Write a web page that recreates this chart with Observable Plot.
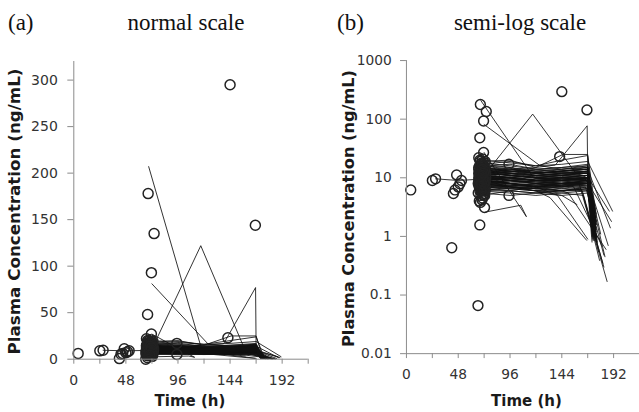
<!DOCTYPE html>
<html><head><meta charset="utf-8">
<script src="https://cdn.jsdelivr.net/npm/d3@7"></script>
<script src="https://cdn.jsdelivr.net/npm/@observablehq/plot@0.6"></script>
<style>
html,body{margin:0;padding:0;background:#fff;overflow:hidden;}
#wrap{position:relative;width:639px;height:412px;overflow:hidden;background:#fff;}
#left{position:absolute;left:0;top:0;}
#right{position:absolute;left:320px;top:0;}
#overlay{position:absolute;left:0;top:0;pointer-events:none;}
.ttl{font-family:"Liberation Serif","Times New Roman",serif;font-size:23px;fill:#111;}
.lab{font-family:"DejaVu Sans",sans-serif;font-size:15px;font-weight:bold;fill:#1a1a1a;}
</style></head><body>
<div id="wrap">
<div id="left"></div><div id="right"></div>
<svg id="overlay" width="639" height="412">
  <text class="ttl" x="8" y="30">(a)</text>
  <text class="ttl" x="186" y="30" text-anchor="middle">normal scale</text>
  <text class="ttl" x="337" y="30">(b)</text>
  <text class="ttl" x="520" y="30" text-anchor="middle">semi-log scale</text>
  <text class="lab" transform="translate(19.5,211.5) rotate(-90)" text-anchor="middle" textLength="286" lengthAdjust="spacingAndGlyphs">Plasma Concentration (ng/mL)</text>
  <text class="lab" transform="translate(354,208.5) rotate(-90)" text-anchor="middle" textLength="277" lengthAdjust="spacingAndGlyphs">Plasma Concentration (ng/mL)</text>
  <text class="lab" x="190" y="406" text-anchor="middle">Time (h)</text>
  <text class="lab" x="526.5" y="406" text-anchor="middle">Time (h)</text>
</svg>
</div>
<script>
// ---- axis ticks ----
const xDomain = [0, 216];
const xMajorTicks = [0, 48, 96, 144, 192];
const xMinorTicks = [24, 72, 120, 168, 216];
const linDomain = [0, 320];
const linTicks = [0, 50, 100, 150, 200, 250, 300];
const logDomain = [0.01, 1000];
const logTicks = [0.01, 0.1, 1, 10, 100, 1000];

// ---- observed concentrations (circles) ----
const sparseObsTime = [4, 24, 27, 42, 43.5, 45, 46.5, 48, 49.5, 51, 66.3, 68, 72.4, 68.5, 74, 71.5, 68, 71.5, 95, 95, 142, 144, 167.3];
const sparseObsConc = [6.2, 9.0, 9.6, 0.64, 5.4, 6.2, 11.2, 7.0, 7.9, 9.0, 0.066, 1.57, 3.1, 178, 135, 93, 48, 27, 17, 5, 23, 295, 144];
const clusterObsTime = [66.5, 67, 67.5, 68, 68.5, 69, 69.5, 70, 70.5, 71, 71.5, 72, 72.5, 73, 73.5,
  66.5, 67, 67.5, 68, 68.5, 69, 69.5, 70, 70.5, 71, 71.5, 72, 72.5, 73, 73.5,
  67, 68, 69, 70, 71, 72, 73, 67.5, 68.5, 69.5, 70.5, 71.5, 72.5,
  68, 69, 70, 71, 72, 69.5, 70.5, 68.5, 71.5, 67, 73, 70, 69, 71, 72, 68, 70,
  67, 67.5, 68, 68.5, 69, 69.5, 70, 70.5, 71, 71.5, 72, 72.5, 73,
  67, 67.5, 68, 68.5, 69, 69.5, 70, 70.5, 71, 71.5, 72, 72.5, 73,
  68, 69, 70, 71, 72, 68.5, 69.5, 70.5, 71.5, 70];
const clusterObsConc = [8, 10, 12, 6, 14, 9, 16, 7, 11, 13, 5, 18, 9.5, 8.5, 12,
  5.5, 15, 7, 20, 9, 11, 6.5, 13, 4.5, 17, 10, 7.5, 14, 6, 10,
  12, 11, 13, 9, 8, 15, 11, 4, 19, 7.5, 21, 12.5, 5,
  16, 5, 10.5, 6, 11.5, 14.5, 8, 3.8, 9, 22, 7, 18, 12, 15.5, 8.5, 10, 6.8,
  9, 7, 13, 8, 10, 12, 6, 9.5, 7, 11, 14, 6.5, 9,
  14, 11, 8.5, 17, 6, 9, 16, 12, 5.2, 10, 8, 13, 19,
  7.5, 13.5, 11, 9.5, 6, 10.5, 8, 14, 12, 4.2];

// ---- individual profiles (lines) ----
const subjTimes = [
  [70,96,120,144,168,174],[68,96,120,144,168,173],[72,96,120,144,168,176],[69,96,120,144,168,175],
  [71,96,120,144,168,174],[70,96,120,144,168,172],[67,96,120,144,168,176],[73,96,120,144,168,175],
  [70,96,120,144,168,174],[68,96,120,144,168,173],[72,96,120,144,168,176],[69,96,120,144,168,175],
  [71,96,120,144,168,174],[70,96,120,144,160,186],[68,96,120,144,162,183],[72,96,120,144,164,179],
  [69,96,120,144,166,183],[71,96,120,144,168,189],[70,96,120,144,168,191],[67,96,120,133,167],
  [73,96,120,140,168],[70,96,120,144,168,175],[68,96,120,145,168,174],[72,96,120,144,158],
  [70,96,120,144,170,188],[69,96,120,144,168,176],[71,96,120,144,168,174],[70,96,120,144,168,173],
  [68,96,120,144,168,175],[72,96,120,144,168,176],[70,96,120,144,168,174],[69,96,120,144,168,172],
  [71,96,120,144,168,175],[68,96,120,144,168,174],[73,96,120,144,168,176],[70,96,120,144,168,173],
  [67,96,120,144,168,175],[72,96,120,144,168,174],[69,96,120,144,168,176],[71,96,120,144,168,172],
  [70,96,120,144,168,175],[68,96,120,144,168,174],[72,96,120,144,168,173],[69,96,120,144,168,176],
  [71,96,120,144,168,175],[70,96,120,144,150,185],[68,96,120,144,155,181],[72,96,120,144,168,178],
  [70,96,120,144,168,180],[69,96,120,144,165,190],
  [69,118,144,168,174],[72,124,144,168,175],[72,117,157,168,175],[70,96,120,138,167.5,168,175],
  [72,111],[73,106,111],[27,48,70,96,120,144,168,175],
  [70,96,120,144,168,174],[69,96,120,144,168,175],[71,96,120,144,168,173],[68,96,120,144,168,176],
  [72,96,120,144,168,174],[70,96,120,144,168,175],[69,96,120,144,168,173],[71,96,120,144,168,176],
  [68,96,120,144,168,174],[70,96,120,144,168,175],[72,96,120,144,168,172],[69,96,120,144,168,174],
  [71,96,120,144,168,175],[70,96,120,144,168,176],[68,96,120,144,168,173],[72,96,120,144,168,175],
  [70,96,120,144,168,174],[69,96,120,144,168,176],[71,96,120,144,168,173],[70,96,120,144,168,175],
  [68,96,120,144,168,174],[72,96,120,144,168,176],[69,96,120,144,168,175],[71,96,120,144,168,174],
  [70,96,120,144,168,184],[69,96,120,144,168,187],[71,96,120,144,163,182],[70,96,120,144,168,177]
];
const subjConcs = [
  [14,12,10,11,13,1.2],[8,9,8,7,8,0.9],[6,7,6.5,7,7.5,1.0],[11,10,9,9,10,1.8],
  [18,16,14,15,17,2.2],[5,6,5.5,6,6.5,0.8],[9,8,7,8,8.5,1.3],[12,13,12,13,14,2.5],
  [7,7.5,8,9,10,1.6],[16,15,12,11,12,1.1],[10,11,10,9,9.5,0.9],[6.5,6,7,7.5,8,1.4],
  [8.5,9,9.5,10,11,2.0],[13,11,10,9,8,0.17],[9,8,7.5,7,6.5,0.3],[7,6.5,6,5.5,5,0.39],
  [11,9,8,7.5,7,0.48],[15,13,12,13,14,1.4],[20,18,16,17,19,2.7],[8,7,6,4.6,0.86],
  [10,8,7,5,0.9],[17,19,16,20,24,3.0],[19,20,15,25,25,2.2],[9,7,6,5,3.5],
  [12,11,10,10,9,2.7],[5.5,5,5.5,6,7,1.0],[14,14,13,12,12,1.7],[9.5,10,11,11,11,1.9],
  [7.5,8,7,7.5,8,1.2],[11,12,11,12,13,2.4],[13,12,11,10,9,1.0],[6,6.5,7,8,9,1.1],
  [10,9,8.5,8,8,1.5],[12,10,9,10,11,0.85],[8,8.5,9,8.5,8,1.8],[15,14,12,13,15,2.8],
  [6,5.5,5,5.5,6,0.9],[9,10,9,10,10,1.3],[16,17,14,13,14,2.1],[11,10,11,12,12,1.0],
  [7,7,6.5,7,8,1.6],[13,14,13,14,16,2.6],[10,9.5,9,9,9,1.2],[8,7,7.5,8,9,0.95],
  [12,13,14,15,16,2.0],[9,8,7,6,5.5,0.6],[11,10,9,8,7,0.7],[7.5,7,6.5,6,6,0.55],
  [10,10,9,9,10,1.1],[14,13,12,11,10,1.8],
  [207,10,9,10,1.2],[81,16,14,15,2.0],[11,122,12,10,1.3],[12,14,15,16.5,77,12,1.6],
  [27,2.2],[2.6,3.4,2.2],[9.6,9,9.5,8,7.5,8,9,1.5],
  [9,8.5,8,8.5,9,1.1],[12,11,10.5,11,12,1.5],[7,7.5,7,7.5,8,0.9],[10,9,8,8,8.5,1.2],
  [15,13,11,12,13,2.0],[8,8,7.5,8,8.5,1.0],[11,11.5,11,10,10,1.4],[6.5,7,6.5,6,6.5,0.8],
  [13,12,12,13,14,2.3],[9.5,9,8.5,9,9.5,1.3],[17,15,13,14,15,2.5],[8.5,8,7,7,7.5,0.95],
  [10.5,10,9.5,10,11,1.7],[12.5,11,10,10.5,11,1.6],[7.5,7,6,6.5,7,0.85],[14,13,12.5,12,12.5,1.9],
  [9,9.5,9,9.5,10,1.4],[6,6,5.5,5,5.5,0.8],[11.5,12,12,13,14,2.2],[8,7.5,7,7.5,8,1.1],
  [13.5,12,11,11.5,12,1.8],[10,10.5,10,11,12,1.6],[7,6.5,6,6,6.5,0.9],[16,14,12,12.5,13,2.1],
  [10,9,8.5,8,8,0.45],[12,11,10,9.5,9,0.7],[8,7.5,7,6.5,6,0.35],[11,10,9,9.5,10,0.8]
];

// ---- build tables ----
const profileRows = [];
subjTimes.forEach((ts, i) => ts.forEach((t, j) => profileRows.push({id: i, t, c: subjConcs[i][j]})));
const obsRows = [
  ...sparseObsTime.map((t, i) => ({t, c: sparseObsConc[i]})),
  ...clusterObsTime.map((t, i) => ({t, c: clusterObsConc[i]}))
];

function panel({type, domain, ticks, width, marginLeft, marginRight, tickPadding}) {
  return Plot.plot({
    width, height: 412, marginLeft, marginRight, marginTop: 61, marginBottom: 53.3,
    style: {fontFamily: "DejaVu Sans", fontSize: "14px", color: "#333", background: "white", overflow: "visible"},
    x: {domain: xDomain},
    y: {type, domain},
    marks: [
      Plot.line(profileRows, {x: "t", y: "c", z: "id", stroke: "#111", strokeWidth: 1.0, strokeOpacity: 0.85}),
      Plot.dot(obsRows, {x: "t", y: "c", r: 5, stroke: "#222", strokeWidth: 1.5, fill: "none"}),
      Plot.ruleX([xDomain[0]], {stroke: "#8a8a8a", strokeWidth: 1}),
      Plot.ruleY([domain[0]], {stroke: "#8a8a8a", strokeWidth: 1}),
      Plot.axisX({ticks: xMinorTicks, tickFormat: () => "", tickSize: 5, stroke: "#8a8a8a", label: null}),
      Plot.axisX({ticks: xMajorTicks, tickFormat: d => `${d}`, tickSize: 5, tickPadding: 11, stroke: "#8a8a8a", fill: "#333", label: null}),
      Plot.axisY({ticks, tickFormat: d => `${d}`, tickSize: 6, tickPadding, stroke: "#8a8a8a", fill: "#333", label: null})
    ]
  });
}

document.getElementById("left").append(panel({
  type: "linear", domain: linDomain, ticks: linTicks, width: 320, marginLeft: 73.3, marginRight: 12.3, tickPadding: 10
}));
document.getElementById("right").append(panel({
  type: "log", domain: logDomain, ticks: logTicks, width: 324, marginLeft: 87.3, marginRight: 0, tickPadding: 9
}));
</script>
</body></html>
